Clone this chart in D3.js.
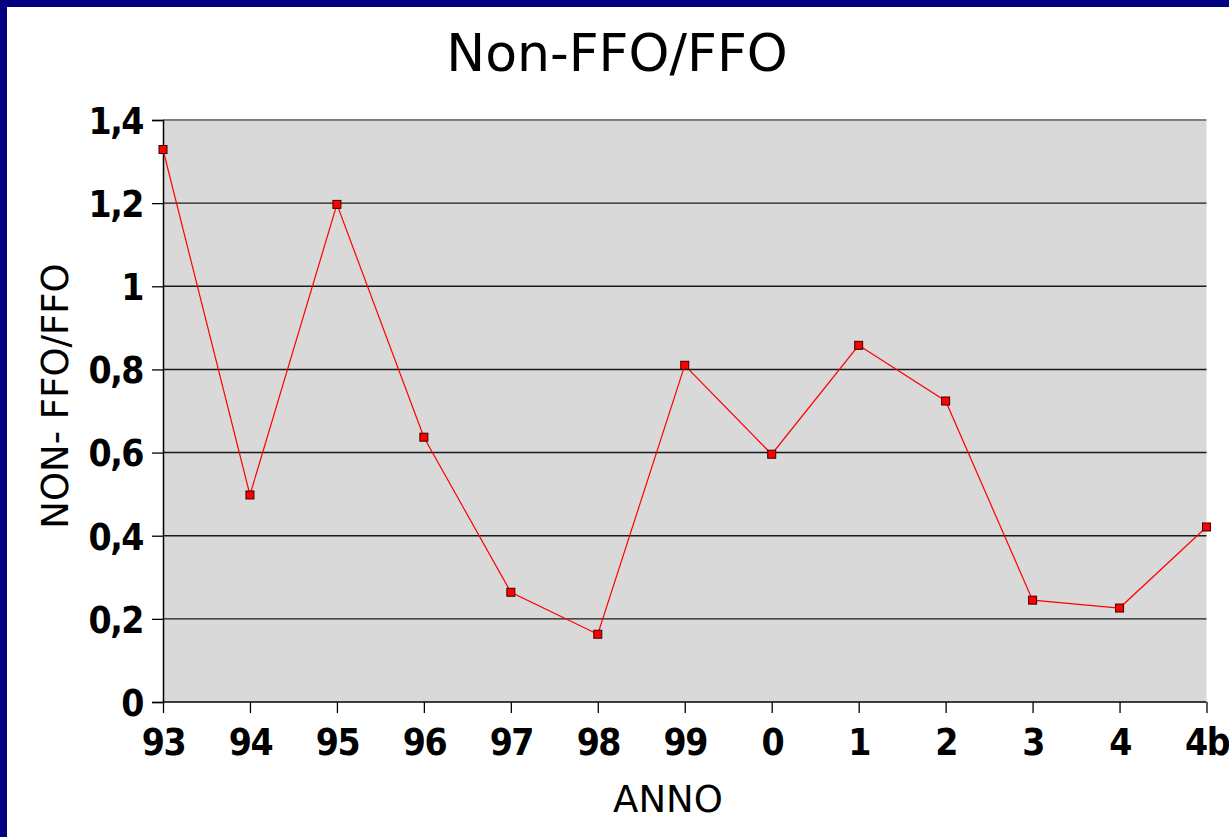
<!DOCTYPE html>
<html>
<head>
<meta charset="utf-8">
<script src="https://cdn.jsdelivr.net/npm/d3@7"></script>
<style>
  html, body { margin: 0; padding: 0; background: #fff; }
  svg { display: block; }
</style>
</head>
<body>
<svg width="1229" height="837"></svg>
<script>
// data
var years = ["93", "94", "95", "96", "97", "98", "99", "0", "1", "2", "3", "4", "4b"];
var ratio = [1.329, 0.498, 1.197, 0.637, 0.264, 0.163, 0.810, 0.596, 0.858, 0.724, 0.245, 0.226, 0.421];
var yTicks = [0, 0.2, 0.4, 0.6, 0.8, 1, 1.2, 1.4];

var svg = d3.select("svg"),
    width = +svg.attr("width"),
    height = +svg.attr("height");

var margin = {left: 163, right: 22, top: 120, bottom: 135};

// navy frame (left + top)
svg.append("rect").attr("x", 0).attr("y", 0).attr("width", width).attr("height", 7).attr("fill", "#000080");
svg.append("rect").attr("x", 0).attr("y", 0).attr("width", 7).attr("height", height).attr("fill", "#000080");

var x = d3.scalePoint()
    .domain(years)
    .range([margin.left, width - margin.right - 0.5]);

var y = d3.scaleLinear()
    .domain([0, 1.4])
    .range([height - margin.bottom, margin.top]);

// plot background
svg.append("rect")
    .attr("x", margin.left)
    .attr("y", y(1.4))
    .attr("width", x.range()[1] - margin.left)
    .attr("height", y(0) - y(1.4))
    .attr("fill", "#d9d9d9");

// gridlines
svg.append("g")
  .selectAll("line")
  .data(yTicks.filter(function(d) { return d > 0; }))
  .enter().append("line")
    .attr("x1", margin.left)
    .attr("x2", x.range()[1])
    .attr("y1", function(d) { return y(d); })
    .attr("y2", function(d) { return y(d); })
    .attr("stroke", function(d) { return d === 1.4 ? "#7f7f7f" : "#1a1a1a"; })
    .attr("stroke-width", function(d) { return d === 1.4 ? 2 : 1.4; });

var fmt = function(d) { return String(d).replace(".", ","); };

// y axis
var yAxis = svg.append("g")
    .attr("transform", "translate(" + margin.left + ",0)")
    .call(d3.axisLeft(y).tickValues(yTicks).tickFormat(fmt).tickSize(11).tickPadding(9));
yAxis.select(".domain").attr("stroke", "#000").attr("stroke-width", 1.5);
yAxis.selectAll(".tick line").attr("stroke", "#000").attr("stroke-width", 1.3);
yAxis.selectAll("text")
    .attr("fill", "#000")
    .attr("dy", "0.36em")
    .style("font-family", "'DejaVu Sans Condensed', 'DejaVu Sans', sans-serif")
    .style("font-stretch", "condensed")
    .style("font-weight", "bold")
    .style("font-size", "37px")
    .style("letter-spacing", "-1.5px");

// x axis
var xAxis = svg.append("g")
    .attr("transform", "translate(0," + y(0) + ")")
    .call(d3.axisBottom(x).tickSize(11).tickPadding(16));
xAxis.select(".domain").remove();
svg.append("line")
    .attr("x1", margin.left).attr("x2", x.range()[1])
    .attr("y1", y(0)).attr("y2", y(0))
    .attr("stroke", "#000").attr("stroke-width", 1.5);
xAxis.selectAll(".tick line").attr("stroke", "#000").attr("stroke-width", 1.3);
xAxis.selectAll("text")
    .attr("fill", "#000")
    .attr("dy", "0.71em")
    .style("font-family", "'DejaVu Sans Condensed', 'DejaVu Sans', sans-serif")
    .style("font-stretch", "condensed")
    .style("font-weight", "bold")
    .style("font-size", "37px")
    .style("letter-spacing", "-1.5px");

// line
var line = d3.line()
    .x(function(d, i) { return x(years[i]); })
    .y(function(d) { return y(d); });

svg.append("path")
    .datum(ratio)
    .attr("d", line)
    .attr("fill", "none")
    .attr("stroke", "#ff0000")
    .attr("stroke-width", 1.2);

// markers
svg.append("g")
  .selectAll("rect")
  .data(ratio)
  .enter().append("rect")
    .attr("x", function(d, i) { return x(years[i]) - 4; })
    .attr("y", function(d) { return y(d) - 4; })
    .attr("width", 8)
    .attr("height", 8)
    .attr("fill", "#ff0000")
    .attr("stroke", "#3a0000")
    .attr("stroke-width", 1);

// titles
svg.append("text")
    .attr("x", 617)
    .attr("y", 71)
    .attr("text-anchor", "middle")
    .style("font-family", "'DejaVu Sans', sans-serif")
    .style("font-size", "52px")
    .text("Non-FFO/FFO");

svg.append("text")
    .attr("x", 668)
    .attr("y", 812)
    .attr("text-anchor", "middle")
    .style("font-family", "'DejaVu Sans', sans-serif")
    .style("font-size", "37px")
    .text("ANNO");

svg.append("text")
    .attr("transform", "translate(68,396) rotate(-90)")
    .attr("text-anchor", "middle")
    .style("font-family", "'DejaVu Sans', sans-serif")
    .style("font-size", "37px")
    .text("NON- FFO/FFO");
</script>
</body>
</html>
